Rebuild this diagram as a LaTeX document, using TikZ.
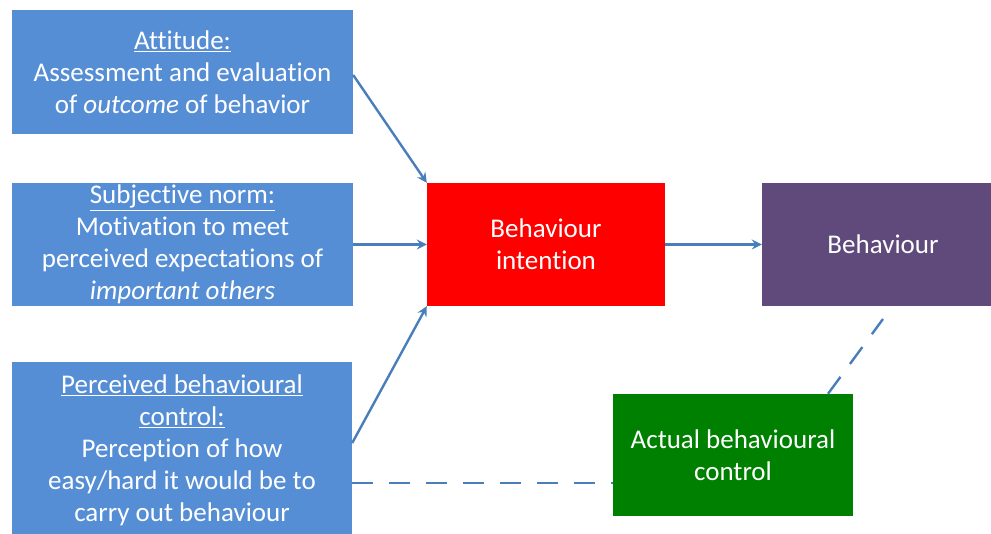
\documentclass[tikz,border=0pt]{standalone}
\usepackage{fontspec}
\setmainfont[Ligatures=NoCommon]{Carlito}
\usetikzlibrary{arrows.meta}
\definecolor{boxblue}{RGB}{85,142,213}
\definecolor{linkblue}{RGB}{74,126,187}
\definecolor{boxred}{RGB}{255,0,0}
\definecolor{boxpurple}{RGB}{96,74,123}
\definecolor{boxgreen}{RGB}{0,128,0}
\tikzset{
  card/.style={rectangle, draw=none, text=white, align=center, inner sep=0pt,
    font=\fontsize{27}{32}\selectfont},
  link/.style={draw=linkblue, line width=2.4pt, -{Stealth[length=10pt,width=10pt,inset=3.5pt]}},
  dlink/.style={draw=linkblue, line width=2.4pt, dash pattern=on 21pt off 16pt}
}
\begin{document}
\begin{tikzpicture}[x=1pt,y=-1pt]
\useasboundingbox (0,0) rectangle (991,533);
\node[card, fill=boxblue, minimum width=341pt, minimum height=124pt] (att) at (182.5,72)
  {\underline{Attitude:}\\Assessment and evaluation\\of \emph{outcome} of behavior};
\node[card, fill=boxblue, minimum width=341pt, minimum height=123pt] (sub) at (182.5,244.5)
  {\underline{Subjective norm:}\\Motivation to meet\\perceived expectations of\\\emph{important others}};
\node[card, fill=boxblue, minimum width=340pt, minimum height=176pt] (pbc) at (182,450)
  {\underline{Perceived behavioural}\\\underline{control:}\\Perception of how\\easy/hard it would be to\\carry out behaviour};
\node[card, fill=boxred, minimum width=238pt, minimum height=123pt] (bi) at (546,244.5)
  {Behaviour\\intention};
\node[card, fill=boxpurple, minimum width=242pt, minimum height=123pt, text width=242pt] (beh) at (883,244.5)
  {Behaviour};
\node[card, fill=boxgreen, minimum width=240pt, minimum height=122pt] (abc) at (733,455)
  {Actual behavioural\\control};
\coordinate (bend) at (883,319);
\draw[link] (att.east |- 0,75) -- (bi.north west);
\draw[link] (sub.east) -- (bi.west);
\draw[link] (pbc.east |- 0,443) -- (bi.south west);
\draw[link] (bi.east) -- (beh.west);
\draw[dlink] (pbc.east |- 0,483) -- (abc.west |- 0,483);
\draw[dlink] (abc.north -| 828,0) -- (bend);
\end{tikzpicture}
\end{document}
